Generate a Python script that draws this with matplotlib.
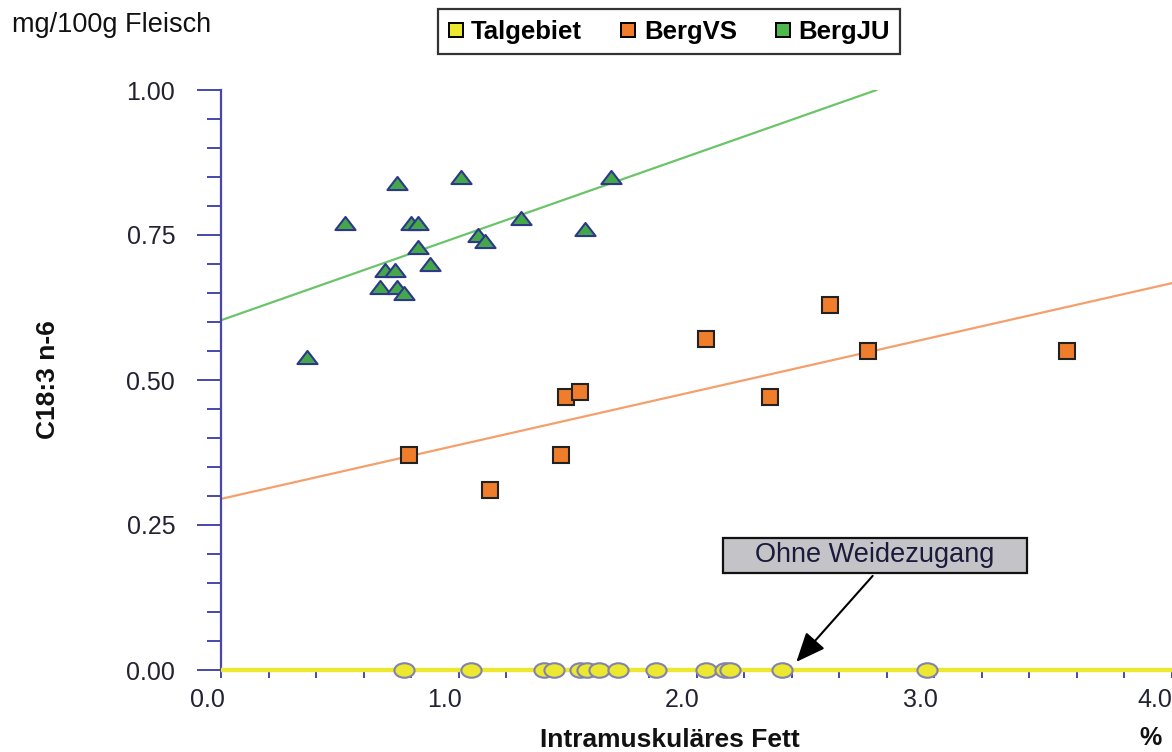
import numpy as np
import matplotlib
matplotlib.use("Agg")
import matplotlib.pyplot as plt
from matplotlib.path import Path
from matplotlib.transforms import Affine2D, ScaledTranslation
from matplotlib.lines import Line2D
from matplotlib.patches import Rectangle

plt.rcParams['font.family'] = ['Liberation Sans', 'DejaVu Sans']

# ---------------- data ----------------
series_names = ["Talgebiet", "BergVS", "BergJU"]

tal_x = [0.77, 1.05, 1.36, 1.40, 1.51, 1.54, 1.59, 1.67, 1.83, 2.04, 2.12, 2.14, 2.36, 2.97]
tal_y = [0.0] * len(tal_x)

vs_x = [0.79, 1.13, 1.43, 1.45, 1.51, 2.04, 2.31, 2.56, 2.72, 3.56]
vs_y = [0.37, 0.31, 0.37, 0.47, 0.48, 0.57, 0.47, 0.63, 0.55, 0.55]

ju_x = [0.74, 1.01, 1.64, 0.52, 0.80, 0.83, 1.26, 1.53, 1.08, 1.11,
        0.83, 0.88, 0.69, 0.73, 0.67, 0.74, 0.77, 0.36]
ju_y = [0.84, 0.85, 0.85, 0.77, 0.77, 0.77, 0.78, 0.76, 0.75, 0.74,
        0.73, 0.70, 0.69, 0.69, 0.66, 0.66, 0.65, 0.54]

# regression lines: (intercept, slope)
tal_fit = (0.0, 0.0)
vs_fit = (0.295, 0.093)
ju_fit = (0.603, 0.144)

x_ticklabels = ["0.0", "1.0", "2.0", "3.0", "4.0"]
y_ticklabels = ["0.00", "0.25", "0.50", "0.75", "1.00"]

# ---------------- style ----------------
AX_COL = "#4848A8"
YEL = "#ECE830"
ORA = "#F07D2C"
GRN = "#44A84A"

W, H = 1172, 752
fig = plt.figure(figsize=(W / 100, H / 100), dpi=100)
L, R, B, T = 221, 1172, 670, 90
ax = fig.add_axes([L / W, 1 - B / H, (R - L) / W, (B - T) / H])

xmax = 4.0
ax.set_xlim(0, xmax)
ax.set_ylim(0, 1.0)

# regression lines
xs = np.array([0, xmax])
ax.plot(xs, tal_fit[0] + tal_fit[1] * xs, color=YEL, lw=3.2, zorder=3, clip_on=False,
        solid_capstyle='butt')
ax.plot(xs, vs_fit[0] + vs_fit[1] * xs, color="#F5A06C", lw=1.6, zorder=2)
x_end = (1.0 - ju_fit[0]) / ju_fit[1]
xj = np.array([0, x_end])
ax.plot(xj, ju_fit[0] + ju_fit[1] * xj, color="#6CC468", lw=1.6, zorder=2)

# markers
ell = Affine2D().scale(1, 0.72).transform_path(Path.unit_circle())
tri = Path([(-1, -0.65), (1, -0.65), (0, 0.65), (-1, -0.65)],
           [Path.MOVETO, Path.LINETO, Path.LINETO, Path.CLOSEPOLY])

ax.plot(tal_x, tal_y, linestyle='none', marker=ell, markersize=14.5,
        markerfacecolor=YEL, markeredgecolor="#8282AE", markeredgewidth=1.5,
        zorder=5, clip_on=False)
ax.plot(vs_x, vs_y, linestyle='none', marker='s', markersize=11,
        markerfacecolor=ORA, markeredgecolor="#222222", markeredgewidth=1.5,
        zorder=5, clip_on=False)
ax.plot(ju_x, ju_y, linestyle='none', marker=tri, markersize=14.5,
        markerfacecolor=GRN, markeredgecolor="#2E3888", markeredgewidth=1.5,
        zorder=5, clip_on=False)

# axes styling
for s in ['top', 'right']:
    ax.spines[s].set_visible(False)
ax.spines['left'].set_color(AX_COL)
ax.spines['left'].set_linewidth(1.6)
ax.spines['bottom'].set_color(AX_COL)
ax.spines['bottom'].set_linewidth(1.6)

ax.set_yticks(np.arange(0, 1.01, 0.25))
ax.set_yticklabels(y_ticklabels)
ax.set_yticks(np.arange(0, 1.001, 0.05), minor=True)
ax.set_xticks(np.arange(0, 4.01, 1.0))
ax.set_xticklabels(x_ticklabels)
ax.set_xticks(np.arange(0, 4.001, 0.2), minor=True)

ax.tick_params(axis='y', which='major', length=17, width=1.4, color=AX_COL,
               labelsize=18, labelcolor="#222233", pad=16)
ax.tick_params(axis='y', which='minor', length=10, width=1.4, color=AX_COL)
ax.tick_params(axis='x', which='major', length=6, width=1.4, color=AX_COL,
               labelsize=18, labelcolor="#222233", pad=7)
ax.tick_params(axis='x', which='minor', length=6, width=1.4, color=AX_COL)

off = ScaledTranslation(-14 / 100, 0, fig.dpi_scale_trans)
xlabs = ax.get_xticklabels()
for lab in xlabs:
    lab.set_transform(lab.get_transform() + off)
xlabs[-1].set_ha('right')
xlabs[-1].set_transform(xlabs[-1].get_transform()
                        + ScaledTranslation(14 / 100, 0, fig.dpi_scale_trans))

ax.set_ylabel("C18:3 n-6", fontsize=19, fontweight='bold', color="#111111")
ax.yaxis.label.set_va('center')
ax.yaxis.set_label_coords((48 - L) / (R - L), 0.5)
ax.set_xlabel("Intramuskuläres Fett", fontsize=19, fontweight='bold', color="#111111")
ax.xaxis.label.set_va('center')
ax.xaxis.set_label_coords((670 - L) / (R - L), -(740 - B) / (B - T))

fig.text(1150 / W, 1 - 738 / H, "%", fontsize=18, fontweight='bold', ha='center',
         va='center', color="#111111")
fig.text(12 / W, 1 - 25 / H, "mg/100g Fleisch", fontsize=19.5, ha='left', va='center',
         color="#111111")

# annotation
bx0, bx1 = (723 - L) / 237.75, (1027 - L) / 237.75
by0, by1 = (B - 573) / 580, (B - 538) / 580
ax.add_patch(Rectangle((bx0, by0), bx1 - bx0, by1 - by0, facecolor="#C4C4C8",
                       edgecolor="#111111", lw=1.6, zorder=6, clip_on=False))
ax.text((bx0 + bx1) / 2, (by0 + by1) / 2, "Ohne Weidezugang", fontsize=19.5,
        ha='center', va='center', color="#1a1a3a", zorder=7)
ax.annotate("", xy=(tal_x[12] + 0.06, 0.014), xytext=(2.741, by0 - 0.005),
            arrowprops=dict(arrowstyle='-|>,head_length=0.75,head_width=0.32',
                            mutation_scale=24, color='black', lw=1.5,
                            shrinkA=0, shrinkB=0), zorder=7)

# legend
handles = [Line2D([], [], linestyle='none', marker='s', markersize=10,
                  markerfacecolor=c, markeredgecolor='black', markeredgewidth=1.4)
           for c in [YEL, ORA, "#4DB84D"]]
leg = fig.legend(handles, series_names, loc='center',
                 bbox_to_anchor=(669 / W, 1 - 31.5 / H), ncol=3, frameon=True,
                 fancybox=False, edgecolor='black', handlelength=0.6,
                 handletextpad=0.3, columnspacing=1.5, borderpad=0.4,
                 prop=dict(size=18.5, weight='bold'))
leg.get_frame().set_linewidth(1.6)

fig.savefig("out.png", dpi=100)
